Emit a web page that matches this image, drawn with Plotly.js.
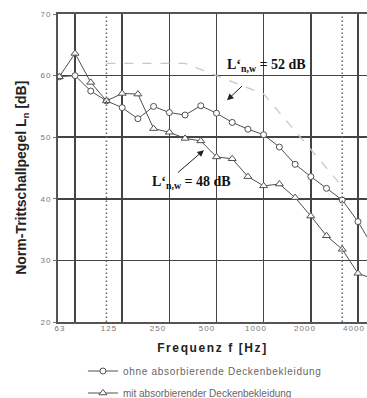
<!DOCTYPE html>
<html>
<head>
<meta charset="utf-8">
<script src="https://cdn.plot.ly/plotly-3.0.1.min.js"></script>
<style>
html,body{margin:0;padding:0;background:#fff;}
#chart{width:367px;height:398px;}
.legendtext{letter-spacing:0.7px;}
.x2title{letter-spacing:1.6px;}
.x2tick text,.ytick text{letter-spacing:1px;}
</style>
</head>
<body>
<div id="chart"></div>
<script>
// Third-octave bands (Hz)
const bands = ['50','63','80','100','125','160','200','250','315','400','500','630','800','1000','1250','1600','2000','2500','3150','4000','5000'];
// Series values (dB)
const ohne = [59.8,60.0,57.5,55.9,54.8,53.0,55.0,54.0,53.6,55.1,53.9,52.4,51.3,50.4,48.4,45.6,43.6,41.7,39.8,36.3,32.0];
const mit  = [59.8,63.6,58.9,55.9,57.1,57.0,51.4,50.8,49.8,49.4,46.8,46.5,43.6,42.1,42.4,40.2,37.2,34.0,31.8,27.9,27.0];
// Reference curve (ISO 717-2), 100 Hz .. 3150 Hz
const refBands = ['100','125','160','200','250','315','400','500','630','800','1000','1250','1600','2000','2500','3150'];
const refVals  = [62,62,62,62,62,62,61,60,59,58,57,54,51,48,45,42];
// Octave gridlines and tick labels
const gridBands = ['63','125','250','500','1000','2000','4000'];
const xLabels = ['63','125','250','500','1000','2000','4000'];
const yTicks = [20,30,40,50,60,70];
const rangeLimits = ['100','3150'];
const seriesNames = ['ohne absorbierende Deckenbekleidung','mit absorbierender Deckenbekleidung'];
const annoTexts = ['L‘<sub>n,w</sub> = 52 dB','L‘<sub>n,w</sub> = 48 dB'];
const yTitle = 'Norm-Trittschallpegel L<sub>n</sub> [dB]';
const xTitle = 'Frequenz f [Hz]';

const idx = b => bands.indexOf(b);
const xs = bands.map((b,i)=>i);

const lineCol = '#505050';
const traces = [
  {x: xs, y: ohne, type:'scatter', mode:'lines+markers', name: seriesNames[0], legend:'legend',
   line:{color:lineCol, width:1}, marker:{symbol:'circle', size:6, color:'#fff', line:{color:lineCol, width:1}}},
  {x: xs, y: mit, type:'scatter', mode:'lines+markers', name: seriesNames[1], legend:'legend2',
   line:{color:lineCol, width:1}, marker:{symbol:'triangle-up', size:7, color:'#fff', line:{color:lineCol, width:1}}},
  {x: refBands.map(idx), y: refVals, type:'scatter', mode:'lines', showlegend:false,
   line:{color:'#c8c8c8', width:1.3, dash:'dash'}},
  {x: [], y: [], xaxis:'x2', type:'scatter', showlegend:false}
];

const shapes = rangeLimits.map(b => ({type:'line', xref:'x', yref:'y', x0: idx(b), x1: idx(b), y0: 20, y1: 70,
  line:{color:'#666', width:1.5, dash:'1.5px,2.5px'}, layer:'above'}));

const serif = 'Liberation Serif, Times New Roman, serif';
const layout = {
  width:367, height:398,
  margin:{l:58, r:0, t:14, b:76, autoexpand:false},
  paper_bgcolor:'#fff', plot_bgcolor:'#fff',
  font:{family:'Liberation Sans, Arial, sans-serif', color:'#222'},
  xaxis:{range:[-0.083, 19.575], tickvals: gridBands.map(idx), showticklabels:false, ticks:'',
    showgrid:true, gridcolor:'#444', gridwidth:1.5, zeroline:false,
    showline:true, linecolor:'#555', linewidth:2, mirror:true},
  xaxis2:{overlaying:'x', anchor:'y', side:'bottom', range:[-0.0408, 6.265], tickvals: xLabels.map((t,i)=>i), ticktext: xLabels,
    showgrid:false, zeroline:false, showline:false, ticks:'',
    tickfont:{size:8, color:'#777'},
    title:{text:xTitle, font:{size:12, weight:'bold', color:'#222'}, standoff:11}},
  yaxis:{range:[20,70], tickvals:yTicks, ticktext: yTicks.map(String), showgrid:true, gridcolor:'#444', gridwidth:1.5,
    zeroline:false, showline:true, linecolor:'#555', linewidth:2, ticks:'outside', ticklen:3, tickcolor:'#777',
    tickfont:{size:8, color:'#777'}},
  legend:{xref:'container', yref:'container', x:0.226, y:1-371/398, xanchor:'left', yanchor:'middle',
    font:{size:10, color:'#666'}, bgcolor:'rgba(0,0,0,0)', borderwidth:0},
  legend2:{xref:'container', yref:'container', x:0.226, y:1-393/398, xanchor:'left', yanchor:'middle',
    font:{size:10, color:'#666'}, bgcolor:'rgba(0,0,0,0)', borderwidth:0},
  shapes: shapes,
  annotations:[
    {x:-0.1165, y:0.468, xref:'paper', yref:'paper', text:yTitle, textangle:-90, showarrow:false,
      xanchor:'center', yanchor:'middle', font:{size:14, weight:'bold', color:'#222'}},
    {x:13.2, y:61.6, xref:'x', yref:'y', text:annoTexts[0], showarrow:false,
      font:{family:serif, size:14, weight:'bold', color:'#111'}},
    {x:10.67, y:56.0, xref:'x', yref:'y', text:' ', showarrow:true, ax:18, ay:-17,
      arrowhead:2, arrowsize:1.3, arrowwidth:1, arrowcolor:'#222'},
    {x:8.38, y:42.6, xref:'x', yref:'y', text:annoTexts[1], showarrow:false,
      font:{family:serif, size:14, weight:'bold', color:'#111'}},
    {x:9.2, y:47.9, xref:'x', yref:'y', text:' ', showarrow:true, ax:-29, ay:25,
      arrowhead:2, arrowsize:1.3, arrowwidth:1, arrowcolor:'#222'}
  ],
  showlegend:true
};

Plotly.newPlot('chart', traces, layout, {staticPlot:true, displayModeBar:false});
</script>
</body>
</html>
